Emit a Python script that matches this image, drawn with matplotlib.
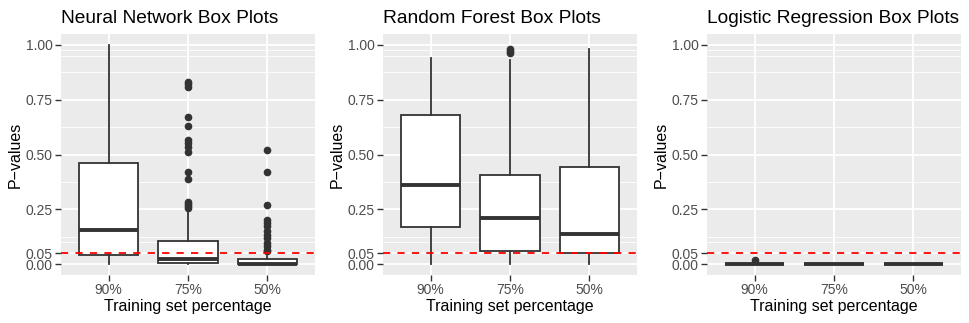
import matplotlib
matplotlib.use("Agg")
import matplotlib.pyplot as plt

plt.rcParams['font.family'] = ['Liberation Sans', 'DejaVu Sans']

categories = ["90%", "75%", "50%"]
titles = ["Neural Network Box Plots", "Random Forest Box Plots", "Logistic Regression Box Plots"]

# box statistics: (whislo, q1, med, q3, whishi)
nn_stats = [(0.0, 0.04, 0.157, 0.46, 1.0),
            (0.0, 0.004, 0.022, 0.103, 0.238),
            (0.0, 0.0, 0.002, 0.023, 0.035)]
nn_fliers = [[],
             [0.831, 0.821, 0.81, 0.671, 0.63, 0.564, 0.551, 0.536, 0.512, 0.422, 0.39,
              0.284, 0.274, 0.264, 0.256],
             [0.521, 0.421, 0.271, 0.203, 0.188, 0.172, 0.149, 0.134, 0.119, 0.096,
              0.081, 0.065, 0.058]]

rf_stats = [(0.0, 0.168, 0.361, 0.68, 0.939),
            (0.0, 0.059, 0.21, 0.407, 0.93),
            (0.0, 0.052, 0.137, 0.442, 0.98)]
rf_fliers = [[], [0.98, 0.973, 0.965], []]

lr_stats = [(0.0, 0.0, 0.0, 0.0, 0.0),
            (0.0, 0.0, 0.0, 0.0, 0.0),
            (0.0, 0.0, 0.0, 0.0, 0.0)]
lr_fliers = [[0.02], [], []]

y_breaks = [0.0, 0.05, 0.25, 0.5, 0.75, 1.0]
y_labels = ["0.00", "0.05", "0.25", "0.50", "0.75", "1.00"]
y_minor = [0.1, 0.125, 0.375, 0.625, 0.875, 0.95, 0.975]
threshold = 0.05

W, H = 969, 323
fig = plt.figure(figsize=(W / 100, H / 100), dpi=100)

panels = [(61, nn_stats, nn_fliers), (383, rf_stats, rf_fliers), (707, lr_stats, lr_fliers)]
box_col = "#333333"

for (left, stats, fliers), title in zip(panels, titles):
    ax = fig.add_axes([left / W, (H - 275) / H, 254 / W, 241 / H])
    ax.set_facecolor("#EBEBEB")
    for s in ax.spines.values():
        s.set_visible(False)

    bxp_stats = []
    for (lo, q1, med, q3, hi), fl in zip(stats, fliers):
        bxp_stats.append(dict(whislo=lo, q1=q1, med=med, q3=q3, whishi=hi, fliers=fl))
    ax.bxp(bxp_stats, positions=[1, 2, 3], widths=0.75, patch_artist=True,
           showcaps=False,
           boxprops=dict(facecolor="white", edgecolor=box_col, linewidth=1.3),
           whiskerprops=dict(color=box_col, linewidth=1.3),
           medianprops=dict(color=box_col, linewidth=2.8, solid_capstyle="butt"),
           flierprops=dict(marker="o", markerfacecolor=box_col, markeredgecolor=box_col,
                           markersize=4.5),
           zorder=3)

    ax.axhline(threshold, color="red", linestyle=(0, (4, 4)), linewidth=1.3, zorder=4)

    ax.set_xlim(0.4, 3.6)
    ax.set_ylim(-0.05, 1.05)
    ax.set_xticks([1, 2, 3])
    ax.set_xticklabels(categories)
    ax.set_yticks(y_breaks)
    ax.set_yticklabels(y_labels)
    ax.set_yticks(y_minor, minor=True)
    ax.tick_params(axis="y", which="minor", length=0)
    ax.tick_params(which="major", length=4, width=1, color="#333333",
                   labelcolor="#4D4D4D", labelsize=10, pad=2)
    ax.grid(True, which="major", color="white", linewidth=1.3, zorder=0)
    ax.grid(True, which="minor", axis="y", color="white", linewidth=0.6, zorder=0)
    ax.set_axisbelow(True)

    ax.set_xlabel("Training set percentage", fontsize=11.5, labelpad=1)
    ax.set_ylabel("P\u2212values", fontsize=11.5, labelpad=2)
    ax.set_title(title, loc="left", fontsize=13.8, pad=8)

fig.savefig("out.png", dpi=100)
